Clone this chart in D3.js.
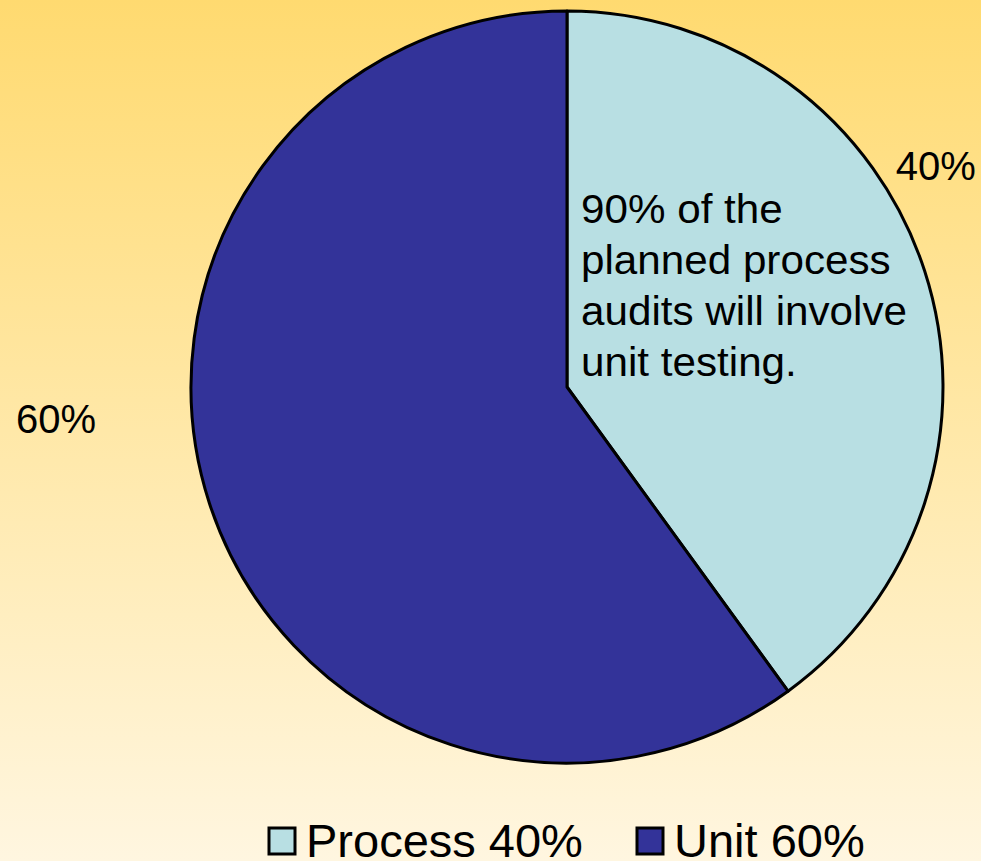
<!DOCTYPE html>
<html>
<head>
<meta charset="utf-8">
<script src="https://cdn.jsdelivr.net/npm/d3@7"></script>
<style>
  html, body { margin: 0; padding: 0; overflow: hidden; }
  svg { display: block; }
</style>
</head>
<body>
<div id="app"></div>
<script>
// pie of planned audits: process vs unit
const categories = ['Process', 'Unit'];
const values = [40, 60];
const sliceColors = ['#b8dfe3', '#333399'];
const noteLines = ['90% of the', 'planned process', 'audits will involve', 'unit testing.'];

(() => {
  const WIDTH = 981;
  const HEIGHT = 861;
  const cx = 567, cy = 387, R = 376;

  const svg = d3.select('#app')
    .append('svg')
    .attr('width', WIDTH)
    .attr('height', HEIGHT)
    .attr('viewBox', [0, 0, WIDTH, HEIGHT]);

  const grad = svg.append('defs').append('linearGradient')
    .attr('id', 'bg').attr('x1', 0).attr('y1', 0).attr('x2', 0).attr('y2', 1);
  grad.append('stop').attr('offset', '0%').attr('stop-color', '#ffda70');
  grad.append('stop').attr('offset', '100%').attr('stop-color', '#fff6e0');

  svg.append('rect').attr('width', WIDTH).attr('height', HEIGHT).attr('fill', 'url(#bg)');

  const data = categories.map((c, i) => ({ name: c, value: values[i], color: sliceColors[i] }));

  const pie = d3.pie().sort(null).value(d => d.value);
  const arcs = pie(data);
  const arc = d3.arc().innerRadius(0).outerRadius(R);

  const g = svg.append('g').attr('transform', `translate(${cx},${cy})`);
  g.selectAll('path')
    .data(arcs)
    .join('path')
    .attr('d', arc)
    .attr('fill', d => d.data.color)
    .attr('stroke', '#000')
    .attr('stroke-width', 3)
    .attr('stroke-linejoin', 'round');

  // data labels, placed outside like the office chart did
  const labelPos = [
    { frac: 0.41, r: 430 },
    { frac: 0.567, r: 512 }
  ];
  g.selectAll('text.lbl')
    .data(arcs)
    .join('text')
    .attr('class', 'lbl')
    .each(function (d, i) {
      const p = labelPos[i];
      const a = d.startAngle + (d.endAngle - d.startAngle) * p.frac;
      d3.select(this)
        .attr('x', Math.sin(a) * p.r)
        .attr('y', -Math.cos(a) * p.r + 14)
        .attr('text-anchor', 'middle');
    })
    .attr('font-family', 'Liberation Sans, Arial, sans-serif')
    .attr('font-size', 40)
    .attr('fill', '#000')
    .text(d => d.data.value + '%');

  // note text in the process slice (a bit wider than plain Arial)
  svg.append('g')
    .attr('transform', 'translate(581,0) scale(1.055,1)')
    .selectAll('text')
    .data(noteLines)
    .join('text')
    .attr('x', 0)
    .attr('y', (d, i) => 223 + i * 51)
    .attr('font-family', 'Liberation Sans, Arial, sans-serif')
    .attr('font-size', 40)
    .attr('fill', '#000')
    .text(d => d);

  // legend
  const legend = svg.append('g');
  const legX = [269, 637];
  const item = legend.selectAll('g')
    .data(data)
    .join('g')
    .attr('transform', (d, i) => `translate(${legX[i]},828)`);
  item.append('rect')
    .attr('width', 26).attr('height', 26)
    .attr('fill', d => d.color)
    .attr('stroke', '#000').attr('stroke-width', 3);
  item.append('text')
    .attr('x', 37)
    .attr('y', 29)
    .attr('font-family', 'Liberation Sans, Arial, sans-serif')
    .attr('font-size', 47)
    .attr('fill', '#000')
    .text(d => `${d.name} ${d.value}%`);
})();
</script>
</body>
</html>
